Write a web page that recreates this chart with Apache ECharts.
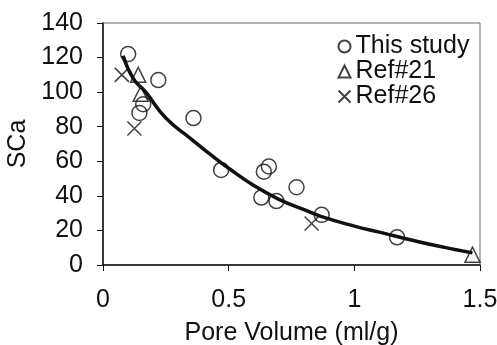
<!DOCTYPE html>
<html>
<head>
<meta charset="utf-8">
<script src="https://cdn.jsdelivr.net/npm/echarts@6/dist/echarts.min.js"></script>
<style>
  html, body { margin: 0; padding: 0; background: #fff; }
  #chart { width: 497px; height: 345px; }
</style>
</head>
<body>
<div id="chart"></div>
<script>
// data: [pore volume, SCa]
var thisStudy = [
    [0.10, 122], [0.22, 107], [0.145, 88], [0.16, 93], [0.36, 85],
    [0.47, 55], [0.64, 54], [0.66, 57], [0.63, 39], [0.69, 37],
    [0.77, 45], [0.87, 29], [1.17, 16]
];
var ref21 = [[0.14, 110], [0.15, 99], [1.47, 6]];
var ref26 = [[0.075, 110], [0.125, 79], [0.83, 24]];
// fitted curve, traced by eye
var fitCurve = [
    [0.08, 121], [0.12, 108], [0.17, 100], [0.25, 85], [0.35, 73],
    [0.44, 62.5], [0.5, 56], [0.6, 46], [0.7, 38], [0.8, 32],
    [0.87, 28], [1.0, 22.5], [1.1, 19], [1.17, 16.5], [1.3, 12],
    [1.4, 9], [1.47, 7]
];
var xTicks = [0, 0.5, 1, 1.5];

var font = 'Liberation Sans';
var ink = '#111';
var fs = 25;
var crossPath = 'path://M0,0L10,10M10,0L0,10';

var chart = echarts.init(document.getElementById('chart'));
var option = {
    animation: false,
    backgroundColor: '#fff',
    textStyle: {fontFamily: font, color: ink},
    grid: {
        left: 103, right: 17, top: 23, bottom: 80,
        outerBoundsMode: 'none',
        show: true, borderColor: '#666', borderWidth: 1
    },
    legend: {
        orient: 'vertical',
        left: 336, top: 34, padding: 0,
        itemWidth: 12, itemHeight: 12, itemGap: 0,
        textStyle: {fontFamily: font, fontSize: fs, color: ink, lineHeight: 23},
        data: ['This study', 'Ref#21', 'Ref#26']
    },
    xAxis: {
        type: 'value', min: 0, max: 1.5, interval: 0.5,
        name: 'Pore Volume (ml/g)', nameLocation: 'middle', nameGap: 56,
        nameTextStyle: {fontFamily: font, fontSize: fs, color: ink},
        axisLine: {lineStyle: {color: ink, width: 1.5}},
        axisTick: {length: 6, lineStyle: {color: ink}},
        axisLabel: {
            fontFamily: font, fontSize: fs, color: ink, margin: 23,
            formatter: function (v) { return xTicks.indexOf(v) >= 0 ? String(v) : ''; }
        },
        splitLine: {show: false}
    },
    yAxis: {
        type: 'value', min: 0, max: 140, interval: 20,
        name: 'SCa', nameLocation: 'middle', nameGap: 66,
        nameTextStyle: {fontFamily: font, fontSize: fs, color: ink},
        axisLine: {lineStyle: {color: ink, width: 1.5}},
        axisTick: {length: 6, lineStyle: {color: ink}},
        axisLabel: {fontFamily: font, fontSize: fs, color: ink, margin: 20},
        splitLine: {show: false}
    },
    series: [
        {
            name: 'fit', type: 'line', data: fitCurve, smooth: true,
            showSymbol: false, silent: true, z: 1,
            lineStyle: {color: ink, width: 3.5}
        },
        {
            name: 'This study', type: 'scatter', data: thisStudy,
            symbol: 'circle', symbolSize: 15, z: 3,
            itemStyle: {color: 'none', borderColor: ink, borderWidth: 1.5}
        },
        {
            name: 'Ref#21', type: 'scatter', data: ref21,
            symbol: 'triangle', symbolSize: 15, z: 3,
            itemStyle: {color: 'none', borderColor: ink, borderWidth: 1.5}
        },
        {
            name: 'Ref#26', type: 'scatter', data: ref26,
            symbol: crossPath, symbolSize: 14, z: 3,
            itemStyle: {color: 'none', borderColor: ink, borderWidth: 1.5}
        }
    ]
};
chart.setOption(option);
</script>
</body>
</html>
